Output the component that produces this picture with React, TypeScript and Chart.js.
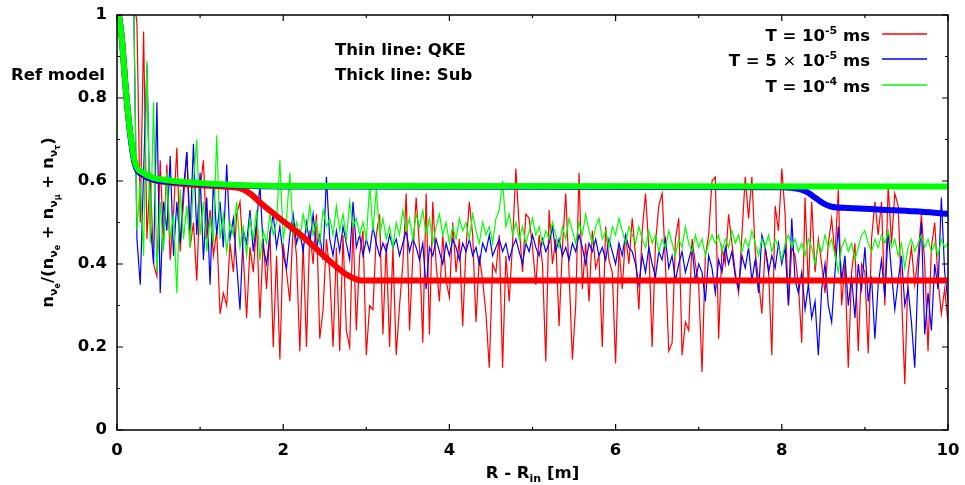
import React, { useEffect, useRef } from "react";
import { Chart, registerables } from "chart.js";
Chart.register(...registerables);

const FAMILY = '"DejaVu Sans", "Liberation Sans", sans-serif';
const FS = 16.5;

// Thin (QKE) curves: sampled from x = 0.20 to 10.00 every 0.04
const X_START = 0.2;
const X_STEP = 0.04;

const redThin = [
  1.05, 0.98, 0.50, 0.96, 0.46, 0.62, 0.40, 0.37, 0.65, 0.45, 0.64, 0.41, 0.52, 0.68, 0.43, 0.55, 0.67, 0.44, 0.50, 0.36, 0.58, 0.65, 0.46, 0.53, 0.42,
  0.48, 0.28, 0.33, 0.30, 0.45, 0.38, 0.52, 0.55, 0.42, 0.27, 0.44, 0.38, 0.50, 0.27, 0.46, 0.34, 0.48, 0.20, 0.42, 0.17, 0.45, 0.38, 0.31, 0.50, 0.42,
  0.19, 0.45, 0.20, 0.48, 0.40, 0.52, 0.22, 0.29, 0.46, 0.38, 0.20, 0.44, 0.19, 0.47, 0.24, 0.20, 0.50, 0.24, 0.42, 0.48, 0.18, 0.30, 0.29, 0.47, 0.52,
  0.23, 0.45, 0.20, 0.44, 0.18, 0.30, 0.40, 0.57, 0.24, 0.42, 0.56, 0.44, 0.21, 0.57, 0.23, 0.55, 0.40, 0.31, 0.47, 0.36, 0.32, 0.50, 0.38, 0.46, 0.25,
  0.44, 0.55, 0.47, 0.26, 0.42, 0.36, 0.28, 0.15, 0.40, 0.38, 0.47, 0.15, 0.42, 0.31, 0.45, 0.63, 0.49, 0.38, 0.52, 0.51, 0.44, 0.35, 0.47, 0.40, 0.165,
  0.53, 0.40, 0.46, 0.25, 0.44, 0.57, 0.38, 0.17, 0.30, 0.62, 0.34, 0.45, 0.31, 0.48, 0.39, 0.42, 0.20, 0.49, 0.41, 0.38, 0.16, 0.44, 0.34, 0.47, 0.40,
  0.51, 0.42, 0.29, 0.48, 0.57, 0.44, 0.20, 0.45, 0.54, 0.57, 0.40, 0.19, 0.21, 0.46, 0.51, 0.18, 0.26, 0.24, 0.46, 0.40, 0.35, 0.14, 0.42, 0.47, 0.60,
  0.61, 0.22, 0.44, 0.40, 0.52, 0.45, 0.38, 0.33, 0.47, 0.61, 0.51, 0.61, 0.43, 0.36, 0.28, 0.44, 0.39, 0.18, 0.54, 0.48, 0.63, 0.52, 0.30, 0.44, 0.42,
  0.35, 0.21, 0.56, 0.34, 0.55, 0.38, 0.46, 0.40, 0.33, 0.45, 0.51, 0.42, 0.58, 0.30, 0.40, 0.15, 0.38, 0.45, 0.19, 0.40, 0.38, 0.185, 0.46, 0.55, 0.47,
  0.55, 0.30, 0.59, 0.45, 0.57, 0.54, 0.33, 0.11, 0.38, 0.44, 0.35, 0.42, 0.52, 0.40, 0.19, 0.44, 0.50, 0.36, 0.28, 0.34, 0.26,
];

const blueThin = [
  1.05, 0.46, 0.35, 0.62, 0.88, 0.50, 0.40, 0.79, 0.33, 0.55, 0.48, 0.66, 0.42, 0.55, 0.45, 0.58, 0.67, 0.48, 0.69, 0.47, 0.62, 0.41, 0.56, 0.35, 0.60,
  0.47, 0.55, 0.44, 0.64, 0.46, 0.51, 0.40, 0.29, 0.48, 0.45, 0.53, 0.43, 0.50, 0.59, 0.44, 0.40, 0.47, 0.52, 0.44, 0.49, 0.42, 0.39, 0.47, 0.52, 0.45,
  0.48, 0.43, 0.50, 0.45, 0.52, 0.44, 0.47, 0.41, 0.61, 0.46, 0.42, 0.48, 0.43, 0.49, 0.45, 0.41, 0.55, 0.44, 0.47, 0.42, 0.46, 0.43, 0.49, 0.45, 0.42,
  0.45, 0.43, 0.47, 0.44, 0.46, 0.42, 0.45, 0.48, 0.43, 0.46, 0.44, 0.41, 0.45, 0.34, 0.44, 0.42, 0.46, 0.43, 0.40, 0.45, 0.42, 0.46, 0.44, 0.41, 0.45,
  0.43, 0.46, 0.42, 0.44, 0.40, 0.45, 0.43, 0.47, 0.42, 0.44, 0.46, 0.43, 0.45, 0.41, 0.44, 0.46, 0.43, 0.40, 0.45, 0.43, 0.47, 0.44, 0.42, 0.46, 0.43,
  0.45, 0.49, 0.43, 0.46, 0.42, 0.44, 0.41, 0.45, 0.43, 0.47, 0.44, 0.40, 0.45, 0.43, 0.46, 0.42, 0.44, 0.41, 0.46, 0.43, 0.40, 0.45, 0.42, 0.47, 0.44,
  0.43, 0.40, 0.35, 0.42, 0.38, 0.44, 0.40, 0.37, 0.43, 0.41, 0.46, 0.39, 0.42, 0.36, 0.40, 0.43, 0.38, 0.41, 0.44, 0.36, 0.40, 0.38, 0.31, 0.42, 0.39,
  0.33, 0.41, 0.38, 0.44, 0.40, 0.43, 0.37, 0.34, 0.42, 0.39, 0.44, 0.36, 0.41, 0.33, 0.47, 0.44, 0.38, 0.42, 0.39, 0.45, 0.40, 0.44, 0.30, 0.51, 0.36,
  0.33, 0.38, 0.29, 0.35, 0.27, 0.31, 0.18, 0.34, 0.40, 0.30, 0.26, 0.38, 0.49, 0.36, 0.42, 0.30, 0.37, 0.27, 0.40, 0.34, 0.44, 0.31, 0.37, 0.22, 0.35,
  0.41, 0.32, 0.48, 0.38, 0.29, 0.36, 0.42, 0.30, 0.34, 0.26, 0.15, 0.38, 0.50, 0.23, 0.33, 0.24, 0.40, 0.34, 0.56, 0.38, 0.31,
];

const greenThin = [
  1.05, 0.48, 0.60, 0.42, 0.89, 0.45, 0.79, 0.38, 0.55, 0.43, 0.62, 0.46, 0.52, 0.33, 0.58, 0.46, 0.54, 0.44, 0.60, 0.70, 0.47, 0.55, 0.43, 0.51, 0.45,
  0.71, 0.46, 0.52, 0.43, 0.50, 0.47, 0.55, 0.44, 0.49, 0.42, 0.51, 0.46, 0.53, 0.41, 0.48, 0.45, 0.52, 0.47, 0.50, 0.65, 0.46, 0.51, 0.62, 0.47, 0.50,
  0.46, 0.52, 0.48, 0.54, 0.47, 0.50, 0.45, 0.53, 0.49, 0.51, 0.47, 0.54, 0.48, 0.52, 0.46, 0.55, 0.49, 0.51, 0.47, 0.50, 0.46, 0.59, 0.48, 0.58, 0.47,
  0.51, 0.46, 0.49, 0.44, 0.50, 0.47, 0.53, 0.48, 0.51, 0.46, 0.52, 0.49, 0.53, 0.47, 0.51, 0.45, 0.49, 0.52, 0.47, 0.50, 0.45, 0.49, 0.46, 0.51, 0.48,
  0.50, 0.46, 0.52, 0.48, 0.45, 0.50, 0.47, 0.49, 0.45, 0.51, 0.53, 0.60, 0.49, 0.52, 0.47, 0.50, 0.46, 0.49, 0.45, 0.48, 0.51, 0.47, 0.49, 0.45, 0.48,
  0.46, 0.50, 0.47, 0.44, 0.49, 0.46, 0.51, 0.48, 0.45, 0.50, 0.47, 0.52, 0.48, 0.45, 0.49, 0.51, 0.46, 0.48, 0.44, 0.49, 0.47, 0.51, 0.48, 0.45, 0.49,
  0.47, 0.45, 0.49, 0.46, 0.44, 0.48, 0.45, 0.47, 0.43, 0.46, 0.44, 0.48, 0.45, 0.42, 0.46, 0.44, 0.49, 0.45, 0.43, 0.47, 0.44, 0.46, 0.42, 0.45, 0.47,
  0.45, 0.47, 0.43, 0.46, 0.44, 0.48, 0.45, 0.47, 0.43, 0.46, 0.44, 0.48, 0.45, 0.42, 0.46, 0.44, 0.47, 0.43, 0.46, 0.44, 0.41, 0.45, 0.47, 0.44, 0.46,
  0.43, 0.45, 0.42, 0.46, 0.44, 0.40, 0.45, 0.43, 0.47, 0.44, 0.46, 0.42, 0.38, 0.44, 0.46, 0.43, 0.45, 0.41, 0.44, 0.47, 0.48, 0.45, 0.43, 0.46, 0.44,
  0.47, 0.45, 0.48, 0.44, 0.46, 0.42, 0.45, 0.39, 0.44, 0.46, 0.43, 0.45, 0.47, 0.44, 0.46, 0.43, 0.45, 0.42, 0.46, 0.44, 0.45,
];

const thinX = redThin.map((_, i) => +(X_START + X_STEP * i).toFixed(2));

// Thick (Sub) curves
const greenThickX = [0, 0.04, 0.06, 0.1, 0.16, 0.22, 0.32, 0.45, 0.6, 0.8, 1.0, 1.5, 2.0, 10];
const greenThickY = [1.03, 0.975, 0.94, 0.835, 0.715, 0.643, 0.619, 0.607, 0.602, 0.598, 0.595, 0.59, 0.588, 0.587];

const blueThickX = [0, 0.04, 0.06, 0.1, 0.16, 0.22, 0.32, 0.45, 0.6, 0.8, 1.0, 2.0, 5.0, 8.0, 8.2, 8.3, 8.4, 8.5, 8.6, 8.8, 9.2, 9.6, 10];
const blueThickY = [1.03, 0.975, 0.94, 0.835, 0.712, 0.638, 0.614, 0.603, 0.599, 0.596, 0.593, 0.587, 0.586, 0.585, 0.581, 0.574, 0.56, 0.546, 0.538, 0.535, 0.531, 0.527, 0.521];

const redThickX = [0, 0.04, 0.06, 0.1, 0.16, 0.22, 0.32, 0.45, 0.6, 0.8, 1.0, 1.3, 1.5, 1.6, 1.7, 1.85, 2.0, 2.15, 2.3, 2.45, 2.6, 2.75, 2.9, 3.0, 10];
const redThickY = [1.03, 0.975, 0.94, 0.835, 0.712, 0.638, 0.614, 0.602, 0.597, 0.593, 0.59, 0.586, 0.581, 0.57, 0.552, 0.527, 0.503, 0.48, 0.455, 0.427, 0.4, 0.376, 0.362, 0.36, 0.36];

const xMajorTicks = [0, 2, 4, 6, 8, 10];
const xMinorTicks = [1, 3, 5, 7, 9];
const yMajorTicks = [0, 0.2, 0.4, 0.6, 0.8, 1];
const yMinorTicks = [0.1, 0.3, 0.5, 0.7, 0.9];

const legendLabels = ["T = 10^-5 ms", "T = 5 × 10^-5 ms", "T = 10^-4 ms"];
const legendColors = ["#ff0000", "#0000ff", "#00ff00"];

type Run = { t: string; s: number; dy: number; w?: string };

function setFont(ctx: CanvasRenderingContext2D, r: Run) {
  ctx.font = `${r.w || "bold"} ${r.s}px ${FAMILY}`;
}
function runsWidth(ctx: CanvasRenderingContext2D, runs: Run[]) {
  let w = 0;
  for (const r of runs) {
    setFont(ctx, r);
    w += ctx.measureText(r.t).width;
  }
  return w;
}
function drawRuns(ctx: CanvasRenderingContext2D, runs: Run[], x: number, y: number, align: string) {
  const total = runsWidth(ctx, runs);
  let cx = align === "right" ? x - total : align === "center" ? x - total / 2 : x;
  ctx.textAlign = "left";
  ctx.textBaseline = "alphabetic";
  for (const r of runs) {
    setFont(ctx, r);
    ctx.fillText(r.t, cx, y + r.dy);
    cx += ctx.measureText(r.t).width;
  }
}

const SUP = 11;
function legendRuns(label: string): Run[] {
  const runs: Run[] = [];
  const parts = label.split(/(\^-\d)/);
  for (const p of parts) {
    if (!p) continue;
    if (p.startsWith("^")) runs.push({ t: p.slice(1), s: SUP, dy: -7 });
    else {
      const sub = p.split(/(×)/);
      for (const q of sub) {
        if (!q) continue;
        if (q === "×") runs.push({ t: q, s: FS, dy: 0, w: "normal" });
        else runs.push({ t: q, s: FS, dy: 0 });
      }
    }
  }
  return runs;
}

const decorPlugin = {
  id: "decor",
  beforeDraw(chart: any) {
    const ctx = chart.ctx;
    ctx.save();
    ctx.fillStyle = "#fff";
    ctx.fillRect(0, 0, chart.width, chart.height);
    ctx.restore();
  },
  afterDraw(chart: any) {
    const ctx: CanvasRenderingContext2D = chart.ctx;
    const { left, right, top, bottom } = chart.chartArea;
    const xs = chart.scales.x;
    const ys = chart.scales.y;
    ctx.save();
    ctx.strokeStyle = "#000";
    ctx.lineWidth = 1.5;
    ctx.strokeRect(left, top, right - left, bottom - top);
    ctx.lineWidth = 1.2;
    ctx.beginPath();
    const tickX = (vals: number[], len: number) => {
      for (const v of vals) {
        const p = xs.getPixelForValue(v);
        ctx.moveTo(p, bottom);
        ctx.lineTo(p, bottom - len);
        ctx.moveTo(p, top);
        ctx.lineTo(p, top + len);
      }
    };
    const tickY = (vals: number[], len: number) => {
      for (const v of vals) {
        const p = ys.getPixelForValue(v);
        ctx.moveTo(left, p);
        ctx.lineTo(left + len, p);
        ctx.moveTo(right, p);
        ctx.lineTo(right - len, p);
      }
    };
    tickX(xMajorTicks, 6);
    tickX(xMinorTicks, 3);
    tickY(yMajorTicks, 6);
    tickY(yMinorTicks, 3);
    ctx.stroke();

    ctx.fillStyle = "#000";
    // annotations
    drawRuns(ctx, [{ t: "Thin line: QKE", s: FS, dy: 0 }], 335, 55, "left");
    drawRuns(ctx, [{ t: "Thick line: Sub", s: FS, dy: 0 }], 335, 80, "left");
    drawRuns(ctx, [{ t: "Ref model", s: FS, dy: 0 }], 105, 80, "right");

    // legend
    const baselines = [41, 66, 92];
    legendLabels.forEach((lab, i) => {
      ctx.fillStyle = "#000";
      drawRuns(ctx, legendRuns(lab), 870, baselines[i], "right");
      ctx.strokeStyle = legendColors[i];
      ctx.lineWidth = 1.5;
      ctx.beginPath();
      ctx.moveTo(882, baselines[i] - 7);
      ctx.lineTo(927, baselines[i] - 7);
      ctx.stroke();
    });

    // x title
    ctx.fillStyle = "#000";
    drawRuns(
      ctx,
      [
        { t: "R - R", s: FS, dy: 0 },
        { t: "in", s: SUP, dy: 4 },
        { t: " [m]", s: FS, dy: 0 },
      ],
      (left + right) / 2,
      478,
      "center"
    );

    // y title (rotated)
    const nu = (sub: string): Run[] => [
      { t: "ν", s: SUP, dy: 4 },
      { t: sub, s: 8, dy: 7 },
    ];
    const yRuns: Run[] = [
      { t: "n", s: FS, dy: 0 },
      ...nu("e"),
      { t: "/(n", s: FS, dy: 0 },
      ...nu("e"),
      { t: " + n", s: FS, dy: 0 },
      ...nu("μ"),
      { t: " + n", s: FS, dy: 0 },
      ...nu("τ"),
      { t: ")", s: FS, dy: 0 },
    ];
    ctx.translate(53, (top + bottom) / 2);
    ctx.rotate(-Math.PI / 2);
    drawRuns(ctx, yRuns, 0, 0, "center");
    ctx.restore();
  },
};

const toXY = (xs: number[], ys: number[]) => xs.map((x, i) => ({ x, y: ys[i] }));

export default function App() {
  const ref = useRef<HTMLCanvasElement | null>(null);
  useEffect(() => {
    if (!ref.current) return;
    const tickFont = { family: FAMILY, size: FS, weight: "bold" as const };
    const thick = (data: any, color: string) => ({
      data,
      borderColor: color,
      backgroundColor: color,
      borderWidth: 6,
      pointRadius: 0,
      cubicInterpolationMode: "monotone" as const,
      borderCapStyle: "butt" as const,
      borderJoinStyle: "round" as const,
      fill: false,
      clip: 0,
    });
    const thin = (data: any, color: string) => ({
      data,
      borderColor: color,
      backgroundColor: color,
      borderWidth: 1.2,
      pointRadius: 0,
      tension: 0,
      fill: false,
      clip: 0,
    });
    const chart = new Chart(ref.current, {
      type: "line",
      data: {
        datasets: [
          thick(toXY(greenThickX, greenThickY), "#00ff00"),
          thick(toXY(blueThickX, blueThickY), "#0000ff"),
          thick(toXY(redThickX, redThickY), "#ff0000"),
          thin(toXY(thinX, greenThin), "#00ff00"),
          thin(toXY(thinX, blueThin), "#0000ff"),
          thin(toXY(thinX, redThin), "#ff0000"),
        ] as any,
      },
      options: {
        animation: false,
        responsive: false,
        devicePixelRatio: 1,
        events: [],
        layout: { padding: { left: 0, right: 17, top: 15, bottom: 0 } },
        plugins: { legend: { display: false }, tooltip: { enabled: false } },
        scales: {
          x: {
            type: "linear",
            min: 0,
            max: 10,
            grid: { display: false, drawTicks: false },
            border: { display: false },
            ticks: {
              stepSize: 2,
              font: tickFont,
              color: "#000",
              padding: 11,
              maxRotation: 0,
              autoSkip: false,
              callback: (v: any) => String(Math.round(Number(v))),
            },
            afterFit: (s: any) => {
              s.height = 55;
              s.paddingLeft = 0;
              s.paddingRight = 0;
              s.paddingTop = 0;
              s.paddingBottom = 0;
            },
          },
          y: {
            type: "linear",
            min: 0,
            max: 1,
            grid: { display: false, drawTicks: false },
            border: { display: false },
            ticks: {
              stepSize: 0.2,
              font: tickFont,
              color: "#000",
              padding: 10,
              callback: (v: any) => String(Math.round(Number(v) * 10) / 10),
            },
            afterFit: (s: any) => {
              s.width = 117;
              s.paddingLeft = 0;
              s.paddingRight = 0;
              s.paddingTop = 0;
              s.paddingBottom = 0;
            },
          },
        },
      } as any,
      plugins: [decorPlugin],
    });
    return () => chart.destroy();
  }, []);
  return (
    <div style={{ position: "fixed", left: 0, top: 0, width: 965, height: 485, background: "#fff" }}>
      <canvas ref={ref} width={965} height={485} style={{ width: 965, height: 485, display: "block" }} />
    </div>
  );
}
